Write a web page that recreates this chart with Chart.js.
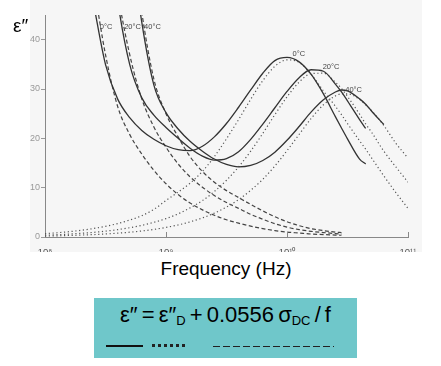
<!DOCTYPE html>
<html>
<head>
<meta charset="utf-8">
<script src="https://cdn.jsdelivr.net/npm/chart.js@4.4.1/dist/chart.umd.min.js"></script>
<style>
body { margin:0; width:441px; height:366px; background:#fff; position:relative; overflow:hidden; font-family: Arial, "Liberation Sans", sans-serif; }
#plot { position:absolute; left:0; top:0; width:441px; height:252px; }
#ylab { position:absolute; left:13px; top:15px; font-size:19px; color:#000; }
#xlab { position:absolute; left:0; width:452px; top:258px; text-align:center; font-size:19px; color:#000; }
#box { position:absolute; left:94px; top:298px; width:263px; height:60px; background:#6fc7ca; }
#formula { position:absolute; left:0; width:263px; top:4px; text-align:center; font-size:22px; color:#000; word-spacing:-2px; white-space:nowrap; }
#formula sub { font-size:13px; vertical-align:-3px; }
.lg { position:absolute; top:47px; }
</style>
</head>
<body>
<div id="plot"><canvas id="theGraph"></canvas></div>
<div id="ylab">ε″</div>
<div id="xlab">Frequency (Hz)</div>
<div id="box">
  <div id="formula">ε″ = ε″<sub>D</sub> + 0.0556 σ<sub>DC</sub> / f</div>
  <div class="lg" style="left:12px;width:37px;border-top:2px solid #111;"></div>
  <div class="lg" style="left:58px;top:46px;width:33px;border-top:3px dotted #222;"></div>
  <div class="lg" style="left:119px;width:121px;height:1px;top:48px;background:repeating-linear-gradient(to right,#222 0 7px,transparent 7px 10px);"></div>
</div>
<script>
// frequency grid (Hz)
var freqs = [1e8, 1.26e8, 1.58e8, 2e8, 2.51e8, 3.16e8, 3.98e8, 5.01e8, 6.31e8, 7.94e8,
  1e9, 1.26e9, 1.58e9, 2e9, 2.51e9, 3.16e9, 3.98e9, 5.01e9, 6.31e9, 7.94e9,
  1e10, 1.26e10, 1.58e10, 2e10, 2.51e10, 2.82e10, 3.16e10, 3.98e10, 4.47e10, 5.01e10, 6.31e10, 7.94e10, 1e11];

// total loss (solid)
var solid0 = [null, null, null, null, 47.5, 35, 28, 24.2, 21.6, 19.8, 18.5, 17.7, 17.5, 18.4, 20.3, 23, 26.3, 29.8, 33.2, 35.75,
  36.4, 35.5, 33, 29, 24.4, 22.1, 19.9, 15.8, 14.8, null, null, null, null];
var solid20 = [null, null, null, null, null, 68, 48, 35, 28.2, 24.7, 22.2, 20, 18, 16.4, 15.6, 15.9, 17.3, 19.8, 22.9, 26.2,
  29.5, 32.3, 33.9, 33.6, 31, 29.4, 27.6, 23.8, 22, null, null, null, null];
var solid40 = [null, null, null, null, null, null, null, 62, 43.5, 30.8, 25.2, 21.9, 19.4, 17.4, 15.8, 14.7, 14.2, 14.5, 15.5, 17.2,
  19.6, 22.4, 25.3, 27.8, 29.4, 29.8, 29.6, 28, 26.9, 25.5, 22.8, null, null];

// dipolar part (dotted)
var dot0 = [0.69, 0.86, 1.08, 1.37, 1.72, 2.17, 2.72, 3.43, 4.32, 5.6, 7.4, 9.1, 10.9, 13.3, 16.3, 19.9, 23.8, 27.9, 31.7, 34.6,
  35.9, 35.4, 33, 29.6, 26.5, 24.8, 23, 19.5, 17.8, 16, 12.4, 9, 5.8];
var dot20 = [0.37, 0.47, 0.59, 0.75, 0.94, 1.18, 1.49, 1.88, 2.36, 2.97, 3.73, 4.69, 5.9, 7.38, 9.22, 11.5, 14.2, 17.4, 21, 24.8,
  28.4, 31.4, 33.1, 33.2, 31.4, 30.1, 28.5, 24.9, 22.9, 21.2, 17.4, 14.2, 11.1];
var dot40 = [0.19, 0.24, 0.31, 0.39, 0.49, 0.61, 0.77, 0.97, 1.22, 1.54, 1.94, 2.44, 3.07, 3.86, 4.84, 6.07, 7.58, 9.46, 11.7, 14.4,
  17.5, 20.8, 24, 26.8, 28.6, 29, 29, 27.9, 26.8, 25.6, 22.6, 19, 16];

// conduction part (dashed)
var dash0 = [null, null, null, null, 51.5, 37, 26.5, 20.8, 16.8, 13.5, 10.8, 8.6, 6.9, 5.5, 4.4, 3.5, 2.8, 2.2, 1.7, 1.3,
  1, 0.8, 0.6, 0.5, 0.4, 0.35, null, null, null, null, null, null, null];
var dash20 = [null, null, null, null, null, 70, 50, 37, 28, 22.3, 18.2, 14.8, 12.2, 10.1, 8.4, 7, 5.8, 4.6, 3.6, 2.7,
  2, 1.5, 1.15, 0.9, 0.7, 0.6, null, null, null, null, null, null, null];
var dash40 = [null, null, null, null, null, null, null, 64, 45.5, 32, 25, 20.3, 16.3, 13.3, 11.1, 9.4, 8, 6.6, 5.3, 4.1,
  3.1, 2.3, 1.7, 1.3, 1, 0.9, null, null, null, null, null, null, null];

var xTicks = [1e8, 1e9, 1e10, 1e11];
var xTickLabels = ["10⁸", "10⁹", "10¹⁰", "10¹¹"];
var yTicks = [0, 10, 20, 30, 40];

// temperature labels: text, anchor frequency, anchor value
var tempText = ["0°C", "20°C", "40°C", "0°C", "20°C", "40°C"];
var tempFreq = [2.84e8, 4.51e8, 6.59e8, 1.11e10, 1.97e10, 3.03e10];
var tempVal = [41.9, 41.9, 41.9, 36.3, 33.7, 29.0];

function pts(vals) {
  return freqs.map(function (f, i) { return { x: f, y: vals[i] }; });
}

function line(vals, kind) {
  var ds = {
    data: pts(vals),
    borderColor: "#333",
    borderWidth: 1.3,
    pointRadius: 0,
    fill: false,
    cubicInterpolationMode: "monotone",
    spanGaps: false
  };
  if (kind == "dot") { ds.borderDash = [1.2, 2.6]; ds.borderColor = "#555"; ds.borderWidth = 1.2; }
  if (kind == "dash") { ds.borderDash = [4, 2.5]; ds.borderColor = "#444"; ds.borderWidth = 1.2; }
  return ds;
}

var extras = {
  id: "extras",
  beforeDraw: function (chart) {
    var c = chart.ctx;
    c.save();
    c.fillStyle = "#f6f6f6";
    c.fillRect(30, 0, 392, 252);
    c.restore();
  },
  afterDatasetsDraw: function (chart) {
    var c = chart.ctx, sx = chart.scales.x, sy = chart.scales.y;
    c.save();
    c.fillStyle = "#444";
    c.font = "7.5px Arial";
    c.textAlign = "left";
    c.textBaseline = "bottom";
    for (var i = 0; i < tempText.length; i++) {
      c.fillText(tempText[i], sx.getPixelForValue(tempFreq[i]), sy.getPixelForValue(tempVal[i]));
    }
    // inward ticks on x axis
    c.strokeStyle = "#888";
    c.lineWidth = 1;
    var b = chart.chartArea.bottom;
    for (var j = 1; j < xTicks.length; j++) {
      var px = Math.round(sx.getPixelForValue(xTicks[j])) + 0.5;
      c.beginPath(); c.moveTo(px, b); c.lineTo(px, b - 5); c.stroke();
    }
    c.restore();
  }
};

var ctx = document.getElementById("theGraph");
var graph = new Chart(ctx, {
  type: "line",
  data: {
    datasets: [
      line(solid0, "solid"), line(solid20, "solid"), line(solid40, "solid"),
      line(dot0, "dot"), line(dot20, "dot"), line(dot40, "dot"),
      line(dash0, "dash"), line(dash20, "dash"), line(dash40, "dash")
    ]
  },
  options: {
    responsive: true,
    maintainAspectRatio: false,
    animation: false,
    layout: { padding: { top: 15, right: 33, left: 0, bottom: 0 } },
    plugins: { legend: { display: false }, tooltip: { enabled: false } },
    scales: {
      x: {
        type: "logarithmic",
        min: 1e8,
        max: 1e11,
        afterBuildTicks: function (s) { s.ticks = xTicks.map(function (v) { return { value: v }; }); },
        afterFit: function (s) { s.height = 15; },
        ticks: {
          autoSkip: false,
          maxRotation: 0,
          padding: 2,
          color: "#555",
          font: { size: 9.5, family: "Arial" },
          callback: function (v) { return xTickLabels[xTicks.indexOf(v)]; }
        },
        grid: { display: false },
        border: { display: true, color: "#888", width: 1 }
      },
      y: {
        min: 0,
        max: 45,
        afterBuildTicks: function (s) { s.ticks = yTicks.map(function (v) { return { value: v }; }); },
        afterFit: function (s) { s.width = 45; },
        ticks: { color: "#999", padding: 1, font: { size: 9, family: "Arial" } },
        grid: { display: true, drawOnChartArea: false, tickLength: 4, color: "#999" },
        border: { display: true, color: "#888", width: 1 }
      }
    }
  },
  plugins: [extras]
});
</script>
</body>
</html>
